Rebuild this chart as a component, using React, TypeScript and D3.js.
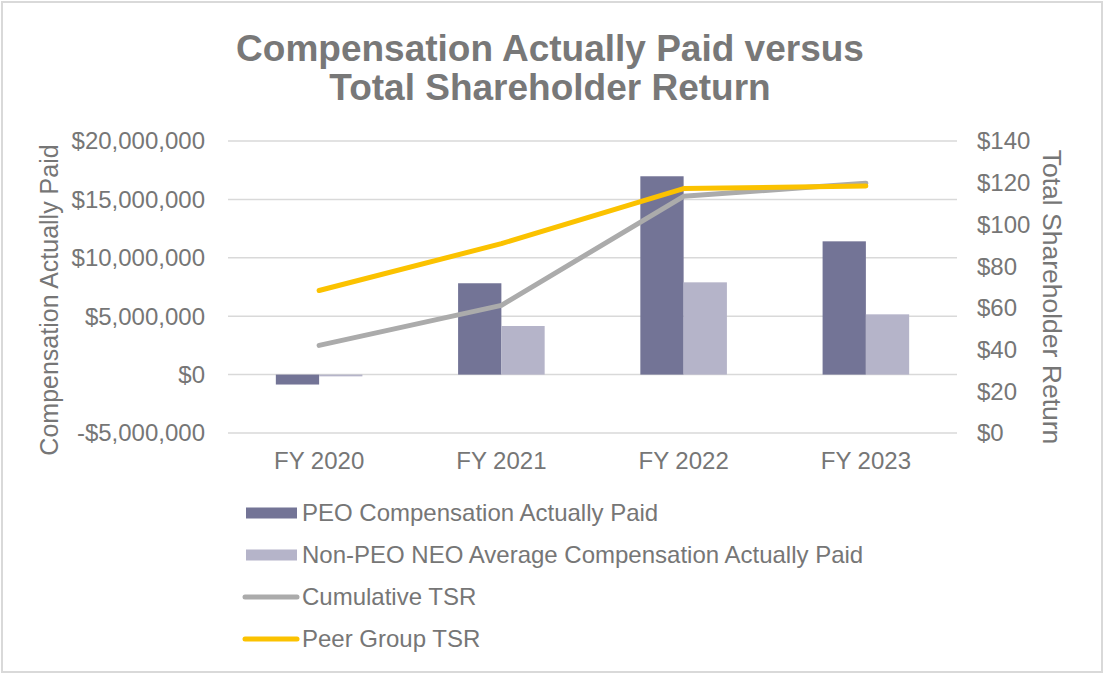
import React from "react";
import * as d3 from "d3";

const categories = ["FY 2020", "FY 2021", "FY 2022", "FY 2023"];
const peoCap = [-850000, 7820000, 16980000, 11410000];
const neoCap = [-150000, 4160000, 7900000, 5160000];
const cumulativeTsr = [42.0, 61.2, 113.5, 119.8];
const peerTsr = [68.3, 90.8, 117.2, 118.4];
const leftTicks = [-5000000, 0, 5000000, 10000000, 15000000, 20000000];
const rightTicks = [0, 20, 40, 60, 80, 100, 120, 140];
const titleLines = ["Compensation Actually Paid versus", "Total Shareholder Return"];
const legendItems = [
  { label: "PEO Compensation Actually Paid", kind: "bar", color: "#737496" },
  { label: "Non-PEO NEO Average Compensation Actually Paid", kind: "bar", color: "#b5b4c9" },
  { label: "Cumulative TSR", kind: "line", color: "#ababab" },
  { label: "Peer Group TSR", kind: "line", color: "#fbc200" },
];

const W = 1112;
const H = 682;
const plotL = 228;
const plotR = 957;
const plotT = 141;
const plotB = 433;
const textColor = "#767676";
const font = "Liberation Sans, Arial, sans-serif";

export default function App() {
  const x = d3.scaleBand<string>().domain(categories).range([plotL, plotR]).padding(0);
  const yL = d3.scaleLinear().domain([-5000000, 20000000]).range([plotB, plotT]);
  const yR = d3.scaleLinear().domain([0, 140]).range([plotB, plotT]);
  const bw = x.bandwidth() * 0.2375;
  const fmtL = (v: number) => (v < 0 ? "-$" : "$") + d3.format(",")(Math.abs(v));
  const line = d3
    .line<number>()
    .x((_, i) => (x(categories[i]) as number) + x.bandwidth() / 2)
    .y((d) => yR(d));

  return (
    <svg
      width={W}
      height={H}
      style={{ position: "absolute", left: 0, top: 0, display: "block", background: "#fff" }}
      fontFamily={font}
    >
      <rect x={2} y={2} width={1100} height={670} fill="#fff" stroke="#d9d9d9" strokeWidth={2} />
      {titleLines.map((t, i) => (
        <text
          key={t}
          x={550}
          y={61 + i * 39}
          textAnchor="middle"
          fontSize={37}
          fontWeight="bold"
          fill="#787878"
        >
          {t}
        </text>
      ))}
      {leftTicks.map((v) => (
        <line key={"g" + v} x1={plotL} x2={plotR} y1={yL(v)} y2={yL(v)} stroke="#d9d9d9" strokeWidth={1.5} />
      ))}
      {leftTicks.map((v) => (
        <text key={"l" + v} x={205} y={yL(v)} dy="0.35em" textAnchor="end" fontSize={24} fill={textColor}>
          {fmtL(v)}
        </text>
      ))}
      {rightTicks.map((v) => (
        <text key={"r" + v} x={977} y={yR(v)} dy="0.35em" textAnchor="start" fontSize={24} fill={textColor}>
          {"$" + v}
        </text>
      ))}
      <text
        transform={`translate(49,300) rotate(-90)`}
        textAnchor="middle"
        dy="0.35em"
        fontSize={25}
        fill={textColor}
      >
        Compensation Actually Paid
      </text>
      <text
        transform={`translate(1052,297) rotate(90)`}
        textAnchor="middle"
        dy="0.35em"
        fontSize={26.5}
        fill={textColor}
      >
        Total Shareholder Return
      </text>
      {categories.map((c, i) => {
        const cx = (x(c) as number) + x.bandwidth() / 2;
        return (
          <g key={c}>
            <rect
              x={cx - bw}
              width={bw}
              y={Math.min(yL(peoCap[i]), yL(0))}
              height={Math.abs(yL(peoCap[i]) - yL(0))}
              fill={legendItems[0].color}
            />
            <rect
              x={cx}
              width={bw}
              y={Math.min(yL(neoCap[i]), yL(0))}
              height={Math.abs(yL(neoCap[i]) - yL(0))}
              fill={legendItems[1].color}
            />
            <text x={cx} y={461} dy="0.35em" textAnchor="middle" fontSize={24} fill={textColor}>
              {c}
            </text>
          </g>
        );
      })}
      <path d={line(cumulativeTsr) || ""} fill="none" stroke={legendItems[2].color} strokeWidth={5} strokeLinecap="round" strokeLinejoin="round" />
      <path d={line(peerTsr) || ""} fill="none" stroke={legendItems[3].color} strokeWidth={5} strokeLinecap="round" strokeLinejoin="round" />
      {legendItems.map((it, i) => {
        const cy = 513 + i * 42;
        return (
          <g key={it.label}>
            {it.kind === "bar" ? (
              <rect x={246} y={cy - 5.5} width={51} height={11} fill={it.color} />
            ) : (
              <line x1={245} x2={297} y1={cy} y2={cy} stroke={it.color} strokeWidth={5} strokeLinecap="round" />
            )}
            <text x={302} y={cy} dy="0.35em" fontSize={24} fill={textColor}>
              {it.label}
            </text>
          </g>
        );
      })}
    </svg>
  );
}
